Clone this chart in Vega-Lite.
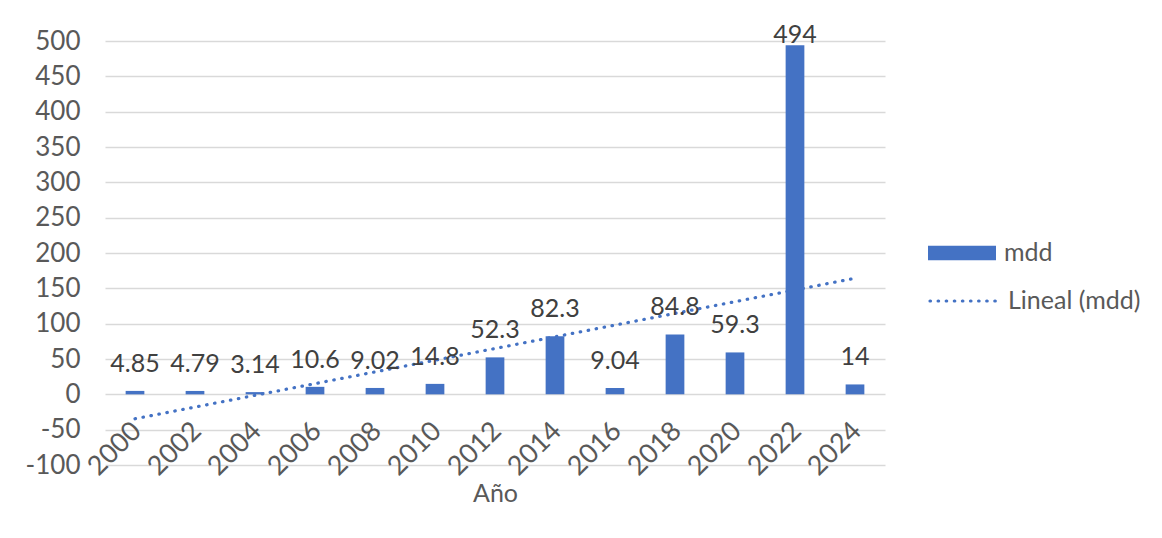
{
  "$schema": "https://vega.github.io/schema/vega-lite/v6.json",
  "autosize": "none",
  "width": 780,
  "height": 424,
  "padding": {"left": 105, "top": 41, "right": 277, "bottom": 73},
  "background": "white",
  "config": {
    "font": "Lato",
    "view": {"stroke": null},
    "axis": {"labelFont": "Lato", "titleFont": "Lato", "labelColor": "#595959", "titleColor": "#595959", "labelFontSize": 26, "titleFontSize": 25, "titleFontWeight": "normal"},
    "legend": {"labelFont": "Lato", "labelFontSize": 25, "labelColor": "#595959"}
  },
  "data": {
    "values": [
      {"year": 2000, "mdd": 4.85},
      {"year": 2002, "mdd": 4.79},
      {"year": 2004, "mdd": 3.14},
      {"year": 2006, "mdd": 10.6},
      {"year": 2008, "mdd": 9.02},
      {"year": 2010, "mdd": 14.8},
      {"year": 2012, "mdd": 52.3},
      {"year": 2014, "mdd": 82.3},
      {"year": 2016, "mdd": 9.04},
      {"year": 2018, "mdd": 84.8},
      {"year": 2020, "mdd": 59.3},
      {"year": 2022, "mdd": 494},
      {"year": 2024, "mdd": 14}
    ]
  },
  "encoding": {
    "x": {
      "field": "year",
      "type": "ordinal",
      "title": "Año",
      "scale": {"paddingInner": 0.688, "paddingOuter": 0.344},
      "axis": {
        "offset": -70.7,
        "domain": false,
        "ticks": false,
        "grid": false,
        "labelAngle": -45,
        "labelAlign": "right",
        "labelBaseline": "top",
        "labelFontSize": 27,
        "labelPadding": 23,
        "labelOffset": -7,
        "labelOverlap": false,
        "titleY": 107,
        "titleBaseline": "alphabetic"
      }
    },
    "y": {
      "field": "mdd",
      "type": "quantitative",
      "title": null,
      "scale": {"domain": [-100, 500], "nice": false},
      "axis": {
        "values": [-100, -50, 0, 50, 100, 150, 200, 250, 300, 350, 400, 450, 500],
        "domain": false,
        "ticks": false,
        "labelPadding": 25,
        "labelOverlap": false,
        "labelExpr": "replace(datum.label, '−', '-')",
        "gridColor": "#D9D9D9",
        "gridWidth": 1.3
      }
    }
  },
  "layer": [
    {
      "transform": [{"regression": "mdd", "on": "year"}],
      "mark": {"type": "line", "strokeWidth": 3.2, "strokeCap": "round", "color": "#4472C4"},
      "encoding": {
        "strokeDash": {
          "datum": "Lineal (mdd)",
          "scale": {"domain": ["Lineal (mdd)"], "range": [[0.5, 7.6]]},
          "legend": {
            "title": null,
            "orient": "none",
            "legendX": 823,
            "legendY": 224,
            "padding": 0,
            "symbolType": "stroke",
            "symbolSize": 4624,
            "symbolStrokeColor": "#4472C4",
            "symbolStrokeWidth": 3.2,
            "labelOffset": 8,
            "encode": {"symbols": {"update": {"strokeCap": {"value": "round"}}}}
          }
        }
      }
    },
    {
      "mark": {"type": "bar"},
      "encoding": {
        "color": {
          "datum": "mdd",
          "scale": {"domain": ["mdd"], "range": ["#4472C4"]},
          "legend": {
            "title": null,
            "orient": "none",
            "legendX": 823,
            "legendY": 178,
            "padding": 0,
            "symbolType": "M-1,-0.216H1V0.216H-1Z",
            "symbolSize": 4624,
            "symbolStrokeWidth": 0,
            "labelOffset": 8
          }
        }
      }
    },
    {
      "transform": [{"filter": "datum.mdd < 400"}],
      "mark": {"type": "text", "baseline": "alphabetic", "dy": -19.3, "fontSize": 25, "color": "#404040", "font": "Lato"},
      "encoding": {
        "text": {"field": "mdd", "type": "quantitative", "format": ""}
      }
    },
    {
      "transform": [{"filter": "datum.mdd >= 400"}],
      "mark": {"type": "text", "baseline": "alphabetic", "dy": -2, "fontSize": 25, "color": "#404040", "font": "Lato"},
      "encoding": {
        "text": {"field": "mdd", "type": "quantitative", "format": ""}
      }
    }
  ]
}
